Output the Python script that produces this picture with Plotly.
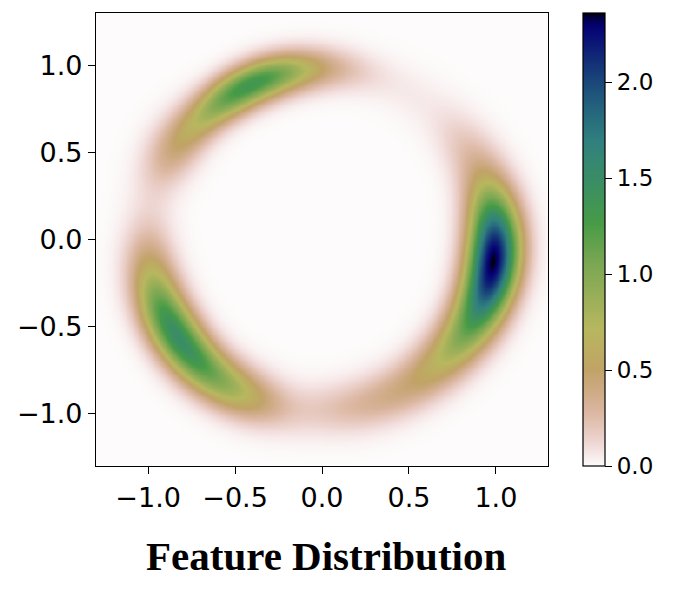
import numpy as np
import plotly.graph_objects as go

# ---- density model: Gaussian lobes along a ring ----
lobe_angle_deg = [-6, -36, -68, 33, 58, 115, 148, 82, 214, 243]
lobe_peak = [2.28, 0.55, 0.32, 0.12, 0.04, 1.35, 0.28, 0.06, 1.5, 0.25]
lobe_sigma_angle_deg = [16, 15, 20, 10, 12, 17, 10, 10, 19, 10]
lobe_radius = [0.99, 0.97, 0.97, 0.98, 0.98, 0.98, 1.01, 0.99, 1.0, 0.98]
lobe_sigma_radius = [0.1, 0.1, 0.1, 0.1, 0.1, 0.08, 0.1, 0.08, 0.095, 0.1]

x_ticks = [-1.0, -0.5, 0.0, 0.5, 1.0]
y_ticks = [-1.0, -0.5, 0.0, 0.5, 1.0]
cbar_ticks = [0.0, 0.5, 1.0, 1.5, 2.0]
axis_range = [-1.3, 1.3]
title_text = "Feature Distribution"

# grid
gx = np.linspace(axis_range[0], axis_range[1], 261)
gy = np.linspace(axis_range[0], axis_range[1], 261)
X, Y = np.meshgrid(gx, gy)
R = np.hypot(X, Y)
TH = np.degrees(np.arctan2(Y, X))
Z = np.zeros_like(X)
for a, p, sa, rc, sr in zip(lobe_angle_deg, lobe_peak, lobe_sigma_angle_deg,
                            lobe_radius, lobe_sigma_radius):
    d = (TH - a + 180) % 360 - 180
    Z += p * np.exp(-0.5 * (d / sa) ** 2) * np.exp(-0.5 * ((R - rc) / sr) ** 2)

# gist_earth_r colorscale
gist_earth = {
    'red': [(0.0, 0.0), (0.2824, 0.1882), (0.4588, 0.2714), (0.5490, 0.4719),
            (0.6980, 0.7176), (0.7882, 0.7553), (1.0, 0.9922)],
    'green': [(0.0, 0.0), (0.0275, 0.0), (0.1098, 0.1893), (0.1647, 0.3035),
              (0.2078, 0.3841), (0.2824, 0.5020), (0.5216, 0.6397), (0.6980, 0.7171),
              (0.7882, 0.6392), (0.7922, 0.6413), (0.8000, 0.6447), (0.8078, 0.6481),
              (0.8157, 0.6549), (0.8667, 0.6991), (0.8745, 0.7103), (0.8824, 0.7216),
              (0.8902, 0.7323), (0.8980, 0.7430), (0.9412, 0.8275), (0.9569, 0.8635),
              (0.9647, 0.8816), (0.9961, 0.9733), (1.0, 0.9843)],
    'blue': [(0.0, 0.0), (0.0039, 0.1684), (0.0078, 0.2212), (0.0275, 0.4329),
             (0.0314, 0.4549), (0.2824, 0.5004), (0.4667, 0.2748), (0.5451, 0.3205),
             (0.7843, 0.3961), (0.8941, 0.6651), (1.0, 0.9843)],
}


def chan(name, t):
    seg = gist_earth[name]
    return float(np.interp(t, [s[0] for s in seg], [s[1] for s in seg]))


colorscale = []
for s in np.linspace(0, 1, 129):
    t = 1 - s
    colorscale.append([float(s), "rgb(%d,%d,%d)" % (round(chan('red', t) * 255),
                                                      round(chan('green', t) * 255),
                                                      round(chan('blue', t) * 255))])

# page body adds an 8px offset; compensate so the plot lands where the reference has it
L, T = 96 - 8, 13 - 8
PW, PH = 452, 453

fig = go.Figure(go.Heatmap(
    x=gx, y=gy, z=Z, colorscale=colorscale, zmin=0, zmax=float(Z.max()),
    zsmooth='best', hoverinfo='skip',
    colorbar=dict(
        x=(583 - 96) / PW, xanchor='left', xpad=0, ypad=0,
        y=0.5, yanchor='middle', len=1, lenmode='fraction',
        thickness=22, outlinewidth=1.2, outlinecolor='black',
        ticks='outside', ticklen=7, tickwidth=1.2, tickcolor='black',
        tickvals=cbar_ticks, tickformat='.1f',
        tickfont=dict(family='DejaVu Sans', size=23, color='black'),
    ),
))

axis_common = dict(
    range=axis_range, showgrid=False, zeroline=False,
    showline=True, linecolor='black', linewidth=1.3, mirror=True,
    ticks='outside', ticklen=7, tickwidth=1.3, tickcolor='black',
    tickformat='.1f', tickfont=dict(family='DejaVu Sans', size=27, color='black'),
)
fig.update_xaxes(tickvals=x_ticks, **axis_common)
fig.update_yaxes(tickvals=y_ticks, **axis_common)

fig.add_annotation(
    text="<b>%s</b>" % title_text, xref='paper', yref='paper',
    x=(326 - 96) / PW, y=(466 - 556) / PH, xanchor='center', yanchor='middle',
    showarrow=False, font=dict(family='Liberation Serif', size=41, color='black'),
)

fig.update_layout(
    width=681, height=606,
    margin=dict(l=L, r=681 - L - PW, t=T, b=606 - T - PH, pad=0),
    paper_bgcolor='white', plot_bgcolor='white',
    font=dict(family='DejaVu Sans', color='black'),
    showlegend=False,
)

fig.write_html("out.html")
